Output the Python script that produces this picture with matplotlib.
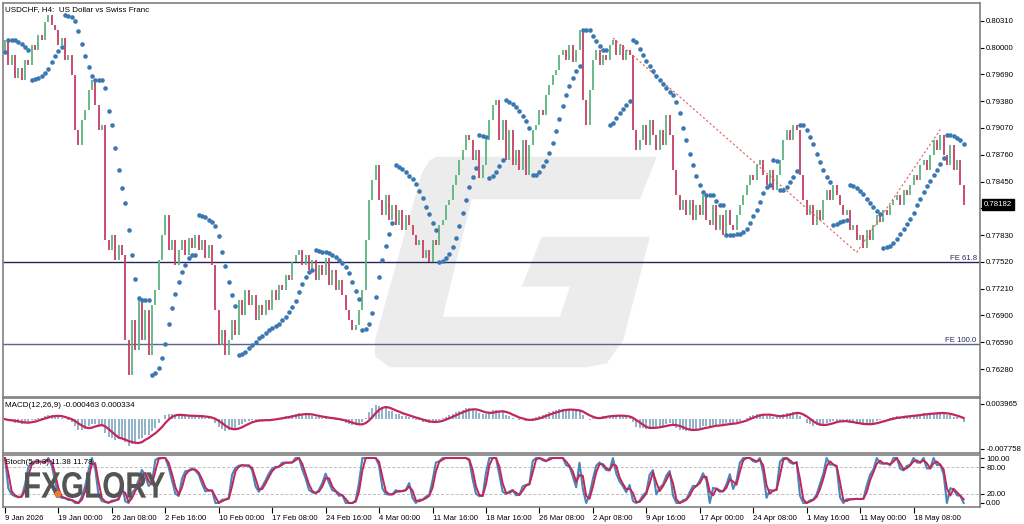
"""
USDCHF H4 chart (MT4 style): price bars, Parabolic SAR, Fibonacci expansion,
MACD and Stochastic sub-windows.
"""

import matplotlib
matplotlib.use("Agg")
import matplotlib.pyplot as plt
import numpy as np
import pandas as pd
from matplotlib.font_manager import FontProperties
from matplotlib.patches import Circle, PathPatch, Polygon
from matplotlib.textpath import TextPath
from matplotlib.transforms import Affine2D, IdentityTransform

plt.rcParams.update({
    "font.family": ["Liberation Sans", "DejaVu Sans"],
    "font.size": 5.6,
    "axes.linewidth": 1.2,
    "axes.edgecolor": "#808080",
})

# ── Data (one bar = two H4 candles) ──────────────────────────────────────
open0 = 0.7995
closes = [
    0.8009, 0.7980, 0.7991, 0.7965, 0.7976, 0.7962,
    0.7986, 0.7980, 0.8003, 0.7997, 0.8015, 0.8009, 0.8030,
    0.8038, 0.8026, 0.8020,
    0.8003, 0.8011, 0.7986, 0.7991, 0.7968,
    0.7905, 0.7887, 0.7916,
    0.7928, 0.7951, 0.7962, 0.7934,
    0.7905, 0.7910,
    0.7777,
    0.7766, 0.7783, 0.7754, 0.7772, 0.7760,
    0.7662, 0.7621,
    0.7685, 0.7650, 0.7708, 0.7662, 0.7696, 0.7644, 0.7702, 0.7719,
    0.7754, 0.7783, 0.7806,
    0.7766, 0.7777, 0.7748,
    0.7766, 0.7777, 0.7760, 0.7780, 0.7768, 0.7783, 0.7766, 0.7777, 0.7757, 0.7772, 0.7748,
    0.7696, 0.7656, 0.7673,
    0.7644, 0.7662, 0.7685, 0.7667,
    0.7708, 0.7691, 0.7719, 0.7702, 0.7714,
    0.7685, 0.7702, 0.7691,
    0.7708, 0.7696, 0.7719, 0.7708, 0.7725, 0.7719, 0.7737, 0.7731, 0.7752, 0.7760,
    0.7766, 0.7748, 0.7760, 0.7743,
    0.7754, 0.7731, 0.7748, 0.7737, 0.7757, 0.7725, 0.7743, 0.7719, 0.7731, 0.7714,
    0.7696, 0.7685, 0.7673, 0.7679, 0.7696, 0.7719,
    0.7777, 0.7824, 0.7847, 0.7864,
    0.7824, 0.7806, 0.7829, 0.7800,
    0.7818, 0.7795, 0.7812, 0.7789, 0.7806, 0.7795,
    0.7783, 0.7772, 0.7777, 0.7757, 0.7766, 0.7752,
    0.7777, 0.7772, 0.7795, 0.7800, 0.7818, 0.7824,
    0.7841, 0.7853, 0.7870, 0.7882, 0.7899, 0.7893,
    0.7870, 0.7882, 0.7849, 0.7864,
    0.7893, 0.7916, 0.7934, 0.7939,
    0.7893, 0.7916, 0.7870, 0.7905, 0.7864, 0.7882,
    0.7858, 0.7893, 0.7853, 0.7887,
    0.7905, 0.7910, 0.7928, 0.7922, 0.7945, 0.7957, 0.7968, 0.7974, 0.7991,
    0.7997, 0.7986, 0.8003, 0.7983, 0.7997, 0.8020,
    0.7939, 0.7910, 0.7951,
    0.7986, 0.7997, 0.7980, 0.7991, 0.7986, 0.8003, 0.8009,
    0.7991, 0.8003, 0.7986, 0.7997, 0.7991,
    0.7905, 0.7882, 0.7893,
    0.7910, 0.7887, 0.7916, 0.7899, 0.7882, 0.7905, 0.7887,
    0.7922, 0.7899,
    0.7858, 0.7829, 0.7812, 0.7824,
    0.7806, 0.7824, 0.7800, 0.7818, 0.7806, 0.7829, 0.7800, 0.7795,
    0.7818, 0.7789, 0.7806, 0.7783, 0.7812, 0.7795, 0.7789, 0.7806, 0.7818,
    0.7829, 0.7841, 0.7853, 0.7847, 0.7864, 0.7870,
    0.7853, 0.7841, 0.7858, 0.7835, 0.7853,
    0.7870, 0.7893, 0.7905, 0.7893, 0.7910, 0.7905,
    0.7853, 0.7824,
    0.7806, 0.7818, 0.7795, 0.7812, 0.7800, 0.7824,
    0.7835, 0.7824, 0.7841, 0.7829,
    0.7818, 0.7806, 0.7812, 0.7789, 0.7795, 0.7777,
    0.7783, 0.7768, 0.7789, 0.7777,
    0.7795, 0.7806, 0.7798, 0.7812, 0.7806, 0.7818,
    0.7824, 0.7829, 0.7818, 0.7835, 0.7829, 0.7841,
    0.7853, 0.7847, 0.7864, 0.7870, 0.7858, 0.7876,
    0.7893, 0.7882, 0.7899, 0.7876,
    0.7864, 0.7887, 0.7858, 0.7870,
    0.7841, 0.78182,
]

date_labels = [
    "9 Jan 2026", "19 Jan 00:00", "26 Jan 08:00", "2 Feb 16:00", "10 Feb 00:00",
    "17 Feb 08:00", "24 Feb 16:00", "4 Mar 00:00", "11 Mar 16:00", "18 Mar 16:00",
    "26 Mar 08:00", "2 Apr 08:00", "9 Apr 16:00", "17 Apr 00:00", "24 Apr 08:00",
    "1 May 16:00", "11 May 00:00", "18 May 08:00",
]
price_ticks = [0.80310, 0.80000, 0.79690, 0.79380, 0.79070, 0.78760, 0.78450,
               0.78140, 0.77830, 0.77520, 0.77210, 0.76900, 0.76590, 0.76280]

# Fibonacci expansion anchors (bar index, price) and levels
fe_bars = [182, 255, 280]
fe_prices = [0.8011, 0.7763, 0.7905]
fe_levels = [61.8, 100.0]

macd_ticks = [0.003965, -0.007758]
stoch_ticks = [100, 80, 20, 0]

# ── Derived OHLC / indicators ────────────────────────────────────────────
c = np.array(closes)
o = np.r_[open0, c[:-1]]
hi = np.maximum(o, c)
lo = np.minimum(o, c)
n = len(c)
x = np.arange(n)


def parabolic_sar(high, low, step=0.02, maxstep=0.2):
    sar = np.zeros(len(high))
    bull, af, ep = True, step, high[0]
    sar[0] = low[0]
    for i in range(1, len(high)):
        s = sar[i - 1] + af * (ep - sar[i - 1])
        if bull:
            s = min(s, low[i - 1], low[max(i - 2, 0)])
            if low[i] < s:
                bull, s, ep, af = False, ep, low[i], step
            elif high[i] > ep:
                ep, af = high[i], min(af + step, maxstep)
        else:
            s = max(s, high[i - 1], high[max(i - 2, 0)])
            if high[i] > s:
                bull, s, ep, af = True, ep, high[i], step
            elif low[i] < ep:
                ep, af = low[i], min(af + step, maxstep)
        sar[i] = s
    return sar


sar = parabolic_sar(hi, lo, step=0.03, maxstep=0.2)

cs = pd.Series(c)
macd = cs.ewm(span=6, adjust=False).mean() - cs.ewm(span=13, adjust=False).mean()
macd_sig = macd.rolling(5, min_periods=1).mean()

hs, ls = pd.Series(hi), pd.Series(lo)
ll = ls.rolling(4, min_periods=1).min()
hh = hs.rolling(4, min_periods=1).max()
num = (cs - ll).rolling(2, min_periods=1).sum()
den = (hh - ll).rolling(2, min_periods=1).sum().replace(0, np.nan)
stoch_k = (100 * num / den).fillna(50)
stoch_d = stoch_k.rolling(2, min_periods=1).mean()

# ── Figure layout (pixel based) ──────────────────────────────────────────
W, H = 1024, 524
fig = plt.figure(figsize=(W / 100, H / 100), dpi=100)
fig.patch.set_facecolor("white")


def px_axes(x0, y0, x1, y1):
    return fig.add_axes([x0 / W, 1 - y1 / H, (x1 - x0) / W, (y1 - y0) / H])


ax = px_axes(3, 3, 980, 397)
axm = px_axes(3, 398, 980, 453)
axs = px_axes(3, 455, 980, 507)
xlim = (-0.6, 291.9)

for a in (ax, axm, axs):
    a.set_xlim(*xlim)
    a.yaxis.tick_right()
    a.tick_params(axis="y", length=3, width=0.8, colors="black", pad=1.5, labelsize=5.6)
    a.tick_params(axis="x", length=0)
    a.set_xticks([])

# ── Watermark logo ───────────────────────────────────────────────────────
g_px = [(436.7, 156.7), (656.7, 156.7), (640, 199.3), (471.7, 199.3), (442.7, 316.7),
        (560, 316.7), (570, 286.7), (521.7, 286.7), (541.7, 236.7), (650, 236.7),
        (623.3, 340), (606.7, 363.3), (586.7, 367.3), (390, 367.3), (375, 356.7),
        (375, 340), (421.7, 173.3), (430, 160)]
ax.add_patch(Polygon([(px / W, 1 - py / H) for px, py in g_px], closed=True,
                     transform=fig.transFigure, facecolor="#ececec",
                     edgecolor="none", zorder=0))

# ── Main price window ────────────────────────────────────────────────────
ax.set_ylim(0.75957, 0.80515)
cols = np.where(c >= o, "#5cb57e", "#c93d66")
ax.vlines(x, lo, hi, colors=cols, lw=1.3, zorder=2)
ax.plot(x, sar, "o", ms=3.3, color="#3b78b2", mec="none", zorder=3)

# Fibonacci expansion
ax.plot(fe_bars[:2], fe_prices[:2], ls=(0, (2, 2)), color="#e06060", lw=0.8, zorder=2)
ax.plot(fe_bars[1:], fe_prices[1:], ls=(0, (2, 2)), color="#e06060", lw=0.8, zorder=2)
swing = fe_prices[0] - fe_prices[1]
for lvl, lc in zip(fe_levels, ["#26265e", "#60608e"]):
    yv = fe_prices[2] - swing * lvl / 100
    ax.axhline(yv, color=lc, lw=1.0, zorder=1)
    ax.text(xlim[1] - 1, yv, f"FE {lvl:.1f}", ha="right", va="bottom",
            color="#26265e", fontsize=5.6)

# the current-price box hides the tick label underneath it
ax.set_yticks(price_ticks)
ax.set_yticklabels(["" if abs(p - c[-1]) < 0.0006 else f"{p:.5f}" for p in price_ticks])
ax.text(0.002, 0.993, "USDCHF, H4:  US Dollar vs Swiss Franc", transform=ax.transAxes,
        ha="left", va="top", fontsize=5.8, color="black")
ax.text(1.004, c[-1], f"{c[-1]:.5f}", transform=ax.get_yaxis_transform(),
        ha="left", va="center", fontsize=5.6, color="white", zorder=5,
        bbox=dict(boxstyle="square,pad=0.25", fc="black", ec="black"))

# ── MACD window ──────────────────────────────────────────────────────────
axm.set_ylim(-0.0088, 0.0055)
axm.vlines(x, 0, macd, colors="#8fb1c9", lw=1.4)
axm.plot(x, macd_sig, color="#c2265a", lw=1.6)
axm.set_yticks(macd_ticks)
axm.set_yticklabels([f"{v:.6f}" for v in macd_ticks])
axm.text(0.002, 0.93, "MACD(12,26,9) -0.000463 0.000334",
         transform=axm.transAxes, ha="left", va="top", fontsize=5.8)

# ── Stochastic window ────────────────────────────────────────────────────
axs.set_ylim(-8.9, 106.7)
for lvl in (80, 20):
    axs.axhline(lvl, color="#bdbdbd", lw=0.7, ls=(0, (3, 2)))
axs.plot(x, stoch_k, color="#4a86b8", lw=1.5)
axs.plot(x, stoch_d, color="#c2265a", lw=1.4)
axs.set_yticks(stoch_ticks)
axs.set_yticklabels([f"{v:.2f}" for v in stoch_ticks])
axs.text(0.002, 0.93, "Stoch(5,3,3) 11.38 11.78", transform=axs.transAxes,
         ha="left", va="top", fontsize=5.8, zorder=6)

tick_pos = np.arange(0, n, 16)[:len(date_labels)]
axs.set_xticks(tick_pos)
axs.set_xticklabels(date_labels, ha="left")
axs.tick_params(axis="x", length=4, width=0.8, pad=2, labelsize=5.6, direction="out")

# brand logo, squeezed to the width it has in the reference
tp = TextPath((0, 0), "FXGLORY", size=100,
              prop=FontProperties(family="Liberation Sans", weight="bold"))
bb = tp.get_extents()
logo_tr = (Affine2D().translate(-bb.x0, -bb.y0)
           .scale(140 / bb.width, 26 / bb.height).translate(25, H - 498))
fig.add_artist(PathPatch(logo_tr.transform_path(tp), transform=IdentityTransform(),
                         facecolor="#555555", edgecolor="none", zorder=7))
fig.add_artist(Circle((58, H - 494), 3.2, transform=IdentityTransform(),
                      facecolor="#f07d22", edgecolor="none", zorder=8))

fig.savefig("out.png", dpi=100, facecolor="white")
